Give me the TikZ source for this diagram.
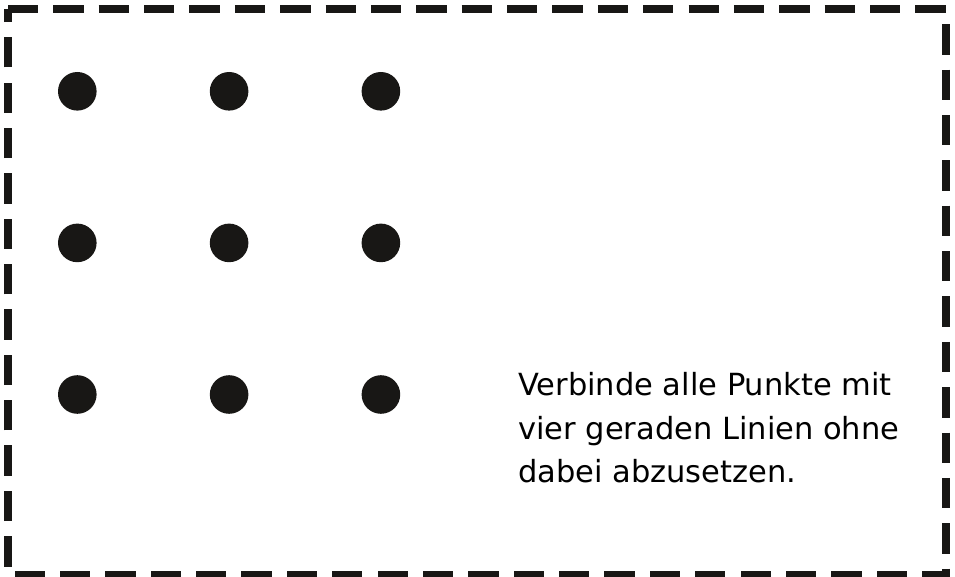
\documentclass[tikz,border=0pt]{standalone}
\usepackage{fontspec}
\setmainfont{DejaVu Sans}
\usepackage{tikz}
\usetikzlibrary{positioning}
\definecolor{punktschwarz}{RGB}{24,23,21}

\begin{document}
\begin{tikzpicture}[x=1pt, y=1pt,
          dot/.style={circle, fill=punktschwarz, draw=none,
                      minimum size=38.6pt, inner sep=0pt},
          frame/.style={draw=punktschwarz, line width=8pt,
                        dash pattern=on 30.3pt off 15.07pt},
          txt/.style={align=left, inner sep=0pt, text=black,
                       font=\fontsize{30.5}{43.5}\selectfont}
        ]
          \useasboundingbox (0,0) rectangle (955,576);
          % dashed frame
          \coordinate (tl) at (8,566.5);
          \coordinate (tr) at (946,566.5);
          \coordinate (br) at (946,1);
          \coordinate (bl) at (8,1);
          \draw[frame] (tl) -- (tr) -- (br) -- (bl) -- cycle;
          % nine dots
          \node[dot] (a1) at (77.3,484.7) {};
          \node[dot, right=112.8pt of a1] (a2) {};
          \node[dot, right=112.8pt of a2] (a3) {};
          \node[dot, below=112.6pt of a1] (b1) {};
          \node[dot, right=112.8pt of b1] (b2) {};
          \node[dot, right=112.8pt of b2] (b3) {};
          \node[dot, below=112.6pt of b1] (c1) {};
          \node[dot, right=112.8pt of c1] (c2) {};
          \node[dot, right=112.8pt of c2] (c3) {};
          % task
          \node[txt, anchor=north west] (aufgabe) at (518,203.5)
            {Verbinde alle Punkte mit\\vier geraden Linien ohne\\dabei abzusetzen.};
        \end{tikzpicture}
\end{document}
